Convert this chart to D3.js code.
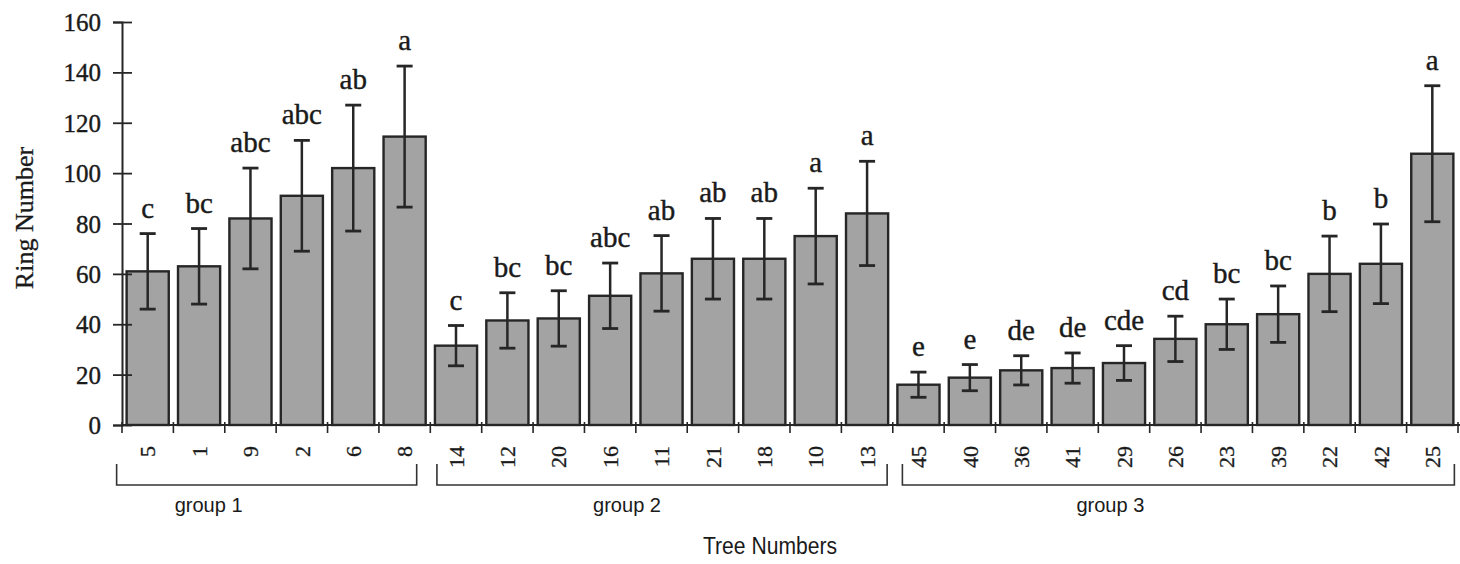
<!DOCTYPE html>
<html>
<head>
<meta charset="utf-8">
<script src="https://cdn.jsdelivr.net/npm/d3@7"></script>
<style>
  body { margin: 0; background: #fff; }
</style>
</head>
<body>
<svg id="chart" width="1460" height="564"></svg>
<script>

// tree numbers, mean ring number, error (+/-), significance letters
var trees = ["5","1","9","2","6","8","14","12","20","16","11","21","18","10","13","45","40","36","41","29","26","23","39","22","42","25"];
var means = [61, 63, 82, 91, 102, 114.5, 31.5, 41.5, 42.3, 51.3, 60.2, 66, 66, 75, 84, 16, 18.8, 21.7, 22.6, 24.6, 34.2, 40, 44, 60, 64, 107.7];
var errs = [15, 15, 20, 22, 25, 28, 8, 11, 11, 13, 15, 16, 16, 19, 20.7, 5, 5.2, 5.8, 6, 6.9, 9, 10, 11.2, 15, 15.8, 27];
var letters = ["c","bc","abc","abc","ab","a","c","bc","bc","abc","ab","ab","ab","a","a","e","e","de","de","cde","cd","bc","bc","b","b","a"];
var groupOf = [1,1,1,1,1,1,2,2,2,2,2,2,2,2,2,3,3,3,3,3,3,3,3,3,3,3];
var groupNames = ["group 1", "group 2", "group 3"];
var yTicks = [0, 20, 40, 60, 80, 100, 120, 140, 160];

var data = trees.map(function(t, i) {
    return { tree: t, mean: means[i], err: errs[i], letter: letters[i], group: groupOf[i] };
});

var chart = d3.select("#chart");
var ink = "#262626";
var serif = "'Liberation Serif', 'Times New Roman', serif";
var sans = "'Liberation Sans', Arial, sans-serif";

var xScale = d3.scaleBand()
    .domain(trees)
    .range([122, 1458])
    .paddingInner(0.18)
    .paddingOuter(0.09);

var yScale = d3.scaleLinear()
    .domain([0, 160])
    .range([425, 22]);

var step = xScale.step();
var bw = xScale.bandwidth();
var edge = function(t) { return xScale(t) - step * 0.09; };   // band boundary left of a bar

// bars
chart.selectAll("rect.bar")
    .data(data).enter()
    .append("rect")
        .attr("class", "bar")
        .attr("x", function(d) { return xScale(d.tree); })
        .attr("y", function(d) { return yScale(d.mean); })
        .attr("width", bw)
        .attr("height", function(d) { return yScale(0) - yScale(d.mean); })
        .attr("fill", "#a3a3a3")
        .attr("stroke", ink)
        .attr("stroke-width", 2.4);

// error bars
var eb = chart.selectAll("g.err")
    .data(data).enter()
    .append("g")
        .attr("class", "err")
        .attr("transform", function(d) { return "translate(" + (xScale(d.tree) + bw / 2) + ",0)"; });

eb.append("line")
    .attr("y1", function(d) { return yScale(d.mean + d.err); })
    .attr("y2", function(d) { return yScale(d.mean - d.err); })
    .attr("stroke", ink).attr("stroke-width", 2.5);

eb.append("line")
    .attr("x1", -8).attr("x2", 8)
    .attr("y1", function(d) { return yScale(d.mean + d.err); })
    .attr("y2", function(d) { return yScale(d.mean + d.err); })
    .attr("stroke", ink).attr("stroke-width", 2.8);

eb.append("line")
    .attr("x1", -8).attr("x2", 8)
    .attr("y1", function(d) { return yScale(d.mean - d.err); })
    .attr("y2", function(d) { return yScale(d.mean - d.err); })
    .attr("stroke", ink).attr("stroke-width", 2.8);

// letters
chart.selectAll("text.letter")
    .data(data).enter()
    .append("text")
        .attr("class", "letter")
        .attr("x", function(d) { return xScale(d.tree) + bw / 2; })
        .attr("y", function(d) { return yScale(d.mean + d.err) - 16; })
        .attr("text-anchor", "middle")
        .attr("font-family", serif)
        .attr("font-size", "29px")
        .attr("fill", "#1a1a1a")
        .attr("stroke", "#1a1a1a").attr("stroke-width", 0.4)
        .text(function(d) { return d.letter; });

// y axis
var yAxis = chart.append("g")
    .attr("transform", "translate(122,0)")
    .call(d3.axisLeft(yScale).tickValues(yTicks).tickSize(9).tickPadding(12));
yAxis.select(".domain").attr("stroke", ink).attr("stroke-width", 2);
yAxis.selectAll(".tick line").attr("x2", -9).attr("x1", 10).attr("stroke", ink).attr("stroke-width", 1.8);
yAxis.selectAll(".tick text")
    .attr("font-family", serif)
    .attr("font-size", "25px")
    .attr("fill", "#1a1a1a")
    .attr("stroke", "#1a1a1a").attr("stroke-width", 0.4)
    .attr("dy", "0.34em");

// x axis: labels at bar centres, ticks at band boundaries
var xAxis = chart.append("g")
    .attr("transform", "translate(0,425)")
    .call(d3.axisBottom(xScale).tickSize(0));
xAxis.select(".domain").attr("d", "M122,0H1460").attr("stroke", ink).attr("stroke-width", 2.2);
xAxis.selectAll(".tick text")
    .attr("font-family", serif)
    .attr("font-size", "22px")
    .attr("fill", "#1a1a1a")
    .attr("stroke", "#1a1a1a").attr("stroke-width", 0.3)
    .attr("text-anchor", "end")
    .attr("transform", "rotate(-90)")
    .attr("x", -21)
    .attr("y", 0)
    .attr("dy", "0.35em");

xAxis.selectAll("line.bound")
    .data(trees.concat(["end"])).enter()
    .append("line")
        .attr("class", "bound")
        .attr("x1", function(t, i) { return i < trees.length ? edge(t) : edge(trees[trees.length - 1]) + step; })
        .attr("x2", function(t, i) { return i < trees.length ? edge(t) : edge(trees[trees.length - 1]) + step; })
        .attr("y1", -3).attr("y2", 8)
        .attr("stroke", ink).attr("stroke-width", 1.6);

// group brackets
var shiftL = [-10, 2, 5], shiftR = [-9, -1, 1], labelOff = [-58, -35, -68];
groupNames.forEach(function(name, gi) {
    var members = data.filter(function(d) { return d.group === gi + 1; });
    var left = xScale(members[0].tree) + shiftL[gi];
    var right = xScale(members[members.length - 1].tree) + bw + shiftR[gi];
    chart.append("path")
        .attr("d", "M" + left + ",464V485H" + right + "V464")
        .attr("fill", "none")
        .attr("stroke", "#333")
        .attr("stroke-width", 1.6);
    chart.append("text")
        .attr("x", (left + right) / 2 + labelOff[gi])
        .attr("y", 512)
        .attr("text-anchor", "middle")
        .attr("font-family", sans)
        .attr("font-size", "20px")
        .attr("fill", "#1a1a1a")
        .attr("textLength", 68)
        .attr("lengthAdjust", "spacingAndGlyphs")
        .text(name);
});

// axis titles
chart.append("text")
    .text("Tree Numbers")
    .attr("x", 770)
    .attr("y", 554)
    .attr("text-anchor", "middle")
    .attr("font-family", sans)
    .attr("font-size", "23px")
    .attr("fill", "#1a1a1a")
    .attr("textLength", 134)
    .attr("lengthAdjust", "spacingAndGlyphs");

chart.append("text")
    .text("Ring Number")
    .attr("transform", "translate(33,218) rotate(-90)")
    .attr("text-anchor", "middle")
    .attr("font-family", serif)
    .attr("font-size", "26px")
    .attr("fill", "#1a1a1a")
    .attr("stroke", "#1a1a1a").attr("stroke-width", 0.3);

</script>
</body>
</html>
